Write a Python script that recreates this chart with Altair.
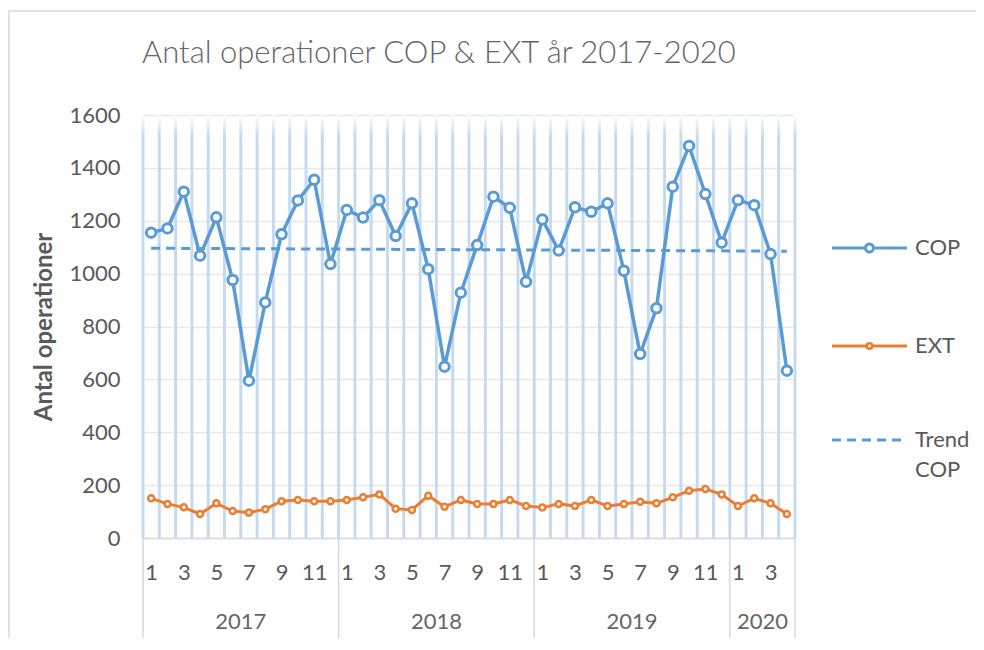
import altair as alt
import pandas as pd

# ---------------- data ----------------
years = [2017] * 12 + [2018] * 12 + [2019] * 12 + [2020] * 4
months = list(range(1, 13)) * 3 + [1, 2, 3, 4]
cop = [1155, 1171, 1310, 1068, 1213, 976, 595, 891, 1149, 1277, 1355, 1036,
       1241, 1212, 1278, 1142, 1266, 1017, 648, 928, 1108, 1291, 1249, 969,
       1205, 1087, 1251, 1234, 1266, 1011, 696, 869, 1329, 1483, 1301, 1117,
       1278, 1259, 1074, 633]
ext = [150, 129, 116, 91, 131, 102, 96, 109, 139, 144, 139, 139,
       144, 154, 165, 111, 106, 160, 118, 144, 129, 129, 144, 121,
       115, 129, 121, 144, 121, 129, 137, 131, 154, 179, 185, 165,
       121, 150, 131, 91]
trend_cop = [1096, 1085]  # start / end of the linear trend line
title_text = "Antal operationer COP & EXT år 2017-2020"
y_title = "Antal operationer"
y_ticks = [0, 200, 400, 600, 800, 1000, 1200, 1400, 1600]

df = pd.DataFrame({"idx": range(len(cop)), "year": years, "month": months,
                   "COP": cop, "EXT": ext})
df_trend = pd.DataFrame({"idx": [df.idx.min(), df.idx.max()], "v": trend_cop})
bounds = pd.DataFrame({"b": [i - 0.5 for i in range(len(df) + 1)]})
yr = df.groupby("year")["idx"].agg(["min", "max", "mean"]).reset_index()
yr["label"] = yr["year"].astype(str)
seps = pd.DataFrame({"s": list(yr["min"] - 0.5) + [yr["max"].iloc[-1] + 0.5]})

# ---------------- style ----------------
W, H = 652, 423
FONT = "Lato"
GRAY = "#595959"
BLUE = "#5B9BD5"
ORANGE = "#ED7D31"
LIGHT = "#d9d9d9"

xscale = alt.Scale(domain=[-0.5, len(df) - 0.5], nice=False, zero=False)
yscale = alt.Scale(domain=[0, 1600], nice=False, zero=True)

x_axis = alt.Axis(values=list(range(0, len(df), 2)), labelExpr="(datum.value % 12) + 1",
                  labelFont=FONT, labelFontSize=22, labelColor=GRAY, labelBaseline="middle",
                  labelPadding=34, ticks=False, grid=False, domainColor=LIGHT, domainWidth=1.5,
                  title=None, labelFlush=False)
y_axis = alt.Axis(values=y_ticks, format="d", title=y_title, titleFont=FONT, titleFontSize=24,
                  titleFontWeight="bold", titleColor=GRAY, titlePadding=12,
                  labelFont=FONT, labelFontSize=22, labelColor=GRAY, labelPadding=23,
                  ticks=False, domain=False, gridColor="#e8e8e8", gridWidth=1.5)


def X(field):
    return alt.X(field, scale=xscale, axis=x_axis, title=None)


def Y(field):
    return alt.Y(field, scale=yscale, axis=y_axis, title=y_title)


grad = alt.Gradient(
    gradient="linear",
    stops=[alt.GradientStop(offset=0, color="#ffffff"),
           alt.GradientStop(offset=0.05, color="#c5daf0"),
           alt.GradientStop(offset=1, color="#c5daf0")],
    x1=0, x2=0, y1=0, y2=1)

one = alt.Data(values=[{"a": 1}])

border = alt.Chart(one).mark_rect(fillOpacity=0, stroke=LIGHT, strokeWidth=1.5).encode(
    x=alt.value(-134), x2=alt.value(900), y=alt.value(-104), y2=alt.value(600))

vlines = alt.Chart(bounds).transform_calculate(
    b1="datum.b - 0.09", b2="datum.b + 0.09"
).mark_rect(fill=grad).encode(
    x=X("b1:Q"), x2="b2:Q", y=alt.value(0), y2=alt.value(H))

year_sep = alt.Chart(seps).mark_rule(color=LIGHT, strokeWidth=1.5).encode(
    x=X("s:Q"), y=alt.value(H), y2=alt.value(H + 100))

year_lbl = alt.Chart(yr).mark_text(font=FONT, fontSize=22, fontWeight=400, color="#666666",
                                   baseline="middle").encode(
    x=X("mean:Q"), y=alt.value(H + 84), text="label:N")

trend = alt.Chart(df_trend).mark_line(color=BLUE, strokeWidth=3, strokeDash=[9, 6]).encode(
    x=X("idx:Q"), y=Y("v:Q"))

cop_line = alt.Chart(df).mark_line(color=BLUE, strokeWidth=3.5).encode(
    x=X("idx:Q"), y=Y("COP:Q"))
cop_pts = alt.Chart(df).mark_point(shape="circle", filled=True, fill="white", stroke=BLUE,
                                   strokeWidth=3, size=90, opacity=1).encode(
    x=X("idx:Q"), y=Y("COP:Q"))

ext_line = alt.Chart(df).mark_line(color=ORANGE, strokeWidth=3).encode(
    x=X("idx:Q"), y=Y("EXT:Q"))
ext_pts = alt.Chart(df).mark_point(shape="circle", filled=True, fill="white", stroke=ORANGE,
                                   strokeWidth=2.5, size=36, opacity=1).encode(
    x=X("idx:Q"), y=Y("EXT:Q"))

title = alt.Chart(one).mark_text(text=title_text, font=FONT, fontSize=31, fontWeight=300,
                                 color="#666666", align="left", baseline="alphabetic").encode(
    x=alt.value(-1), y=alt.value(-52))


def legend_item(y, color, label_lines, dash=None, psize=None, pstroke=2.5):
    kw = {"strokeDash": dash} if dash else {}
    layers = [alt.Chart(one).mark_rule(color=color, strokeWidth=3, **kw).encode(
        x=alt.value(689), x2=alt.value(764), y=alt.value(y))]
    if psize:
        layers.append(alt.Chart(one).mark_point(shape="circle", filled=True, fill="white",
                                                stroke=color, strokeWidth=pstroke, size=psize,
                                                opacity=1).encode(
            x=alt.value(726.5), y=alt.value(y)))
    for i, t in enumerate(label_lines):
        layers.append(alt.Chart(one).mark_text(text=t, font=FONT, fontSize=22, color=GRAY,
                                               align="left", baseline="middle").encode(
            x=alt.value(772), y=alt.value(y + 30 * i)))
    return layers


leg = (legend_item(133, BLUE, ["COP"], psize=64, pstroke=3)
       + legend_item(231, ORANGE, ["EXT"], psize=30)
       + legend_item(325, BLUE, ["Trend", "COP"], dash=[9, 6]))

chart = alt.layer(
    border, vlines, year_sep, year_lbl, trend, cop_line, cop_pts, ext_line, ext_pts, title, *leg
).properties(
    width=W, height=H,
    autosize=alt.AutoSizeParams(type="none"),
    padding={"left": 135, "top": 107, "right": 181, "bottom": 100},
).configure_view(stroke=None).configure(background="white")

chart.save("out.html", embed_options={"renderer": "svg", "actions": False})
